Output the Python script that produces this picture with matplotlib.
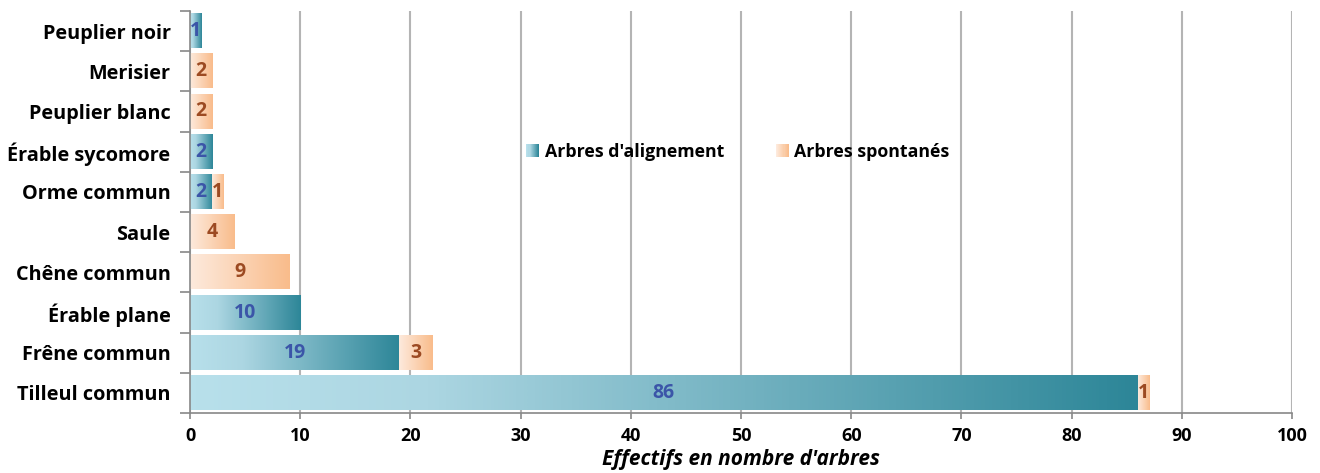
import matplotlib.pyplot as plt
from matplotlib.colors import LinearSegmentedColormap
from matplotlib.legend_handler import HandlerBase
from matplotlib.patches import Rectangle
import numpy as np

plt.rcParams['font.family'] = ['Open Sans', 'DejaVu Sans']

categories = ["Peuplier noir", "Merisier", "Peuplier blanc", "Érable sycomore", "Orme commun",
              "Saule", "Chêne commun", "Érable plane", "Frêne commun", "Tilleul commun"]
alignement = [1, 0, 0, 2, 2, 0, 0, 10, 19, 86]
spontanes = [0, 2, 2, 0, 1, 4, 9, 0, 3, 1]
series_names = ["Arbres d'alignement", "Arbres spontanés"]

cmap_bleu = LinearSegmentedColormap.from_list(
    "bleu", [(0, "#b8e0eb"), (0.25, "#acd6e2"), (1, "#2d8698")])
cmap_orange = LinearSegmentedColormap.from_list(
    "orange", [(0, "#fdeadd"), (1, "#f9bc8b")])
couleur_txt = ["#3b55a8", "#9c4a22"]

grad = np.linspace(0, 1, 256).reshape(1, -1)


class HandlerGradient(HandlerBase):
    # petit carré en dégradé pour la légende
    def __init__(self, cmap):
        super().__init__()
        self.cmap = cmap

    def create_artists(self, legend, orig_handle, xdescent, ydescent,
                       width, height, fontsize, trans):
        n = 12
        side = height
        x0 = -xdescent + (width - side)
        y0 = -ydescent + (height - side) / 2
        arts = []
        for i in range(n):
            r = Rectangle((x0 + i * side / n, y0), side / n * 1.05, side,
                          facecolor=self.cmap(i / (n - 1)), edgecolor="none",
                          transform=trans)
            arts.append(r)
        return arts


fig = plt.figure(figsize=(13.2, 4.73), dpi=100)
ax = fig.add_axes([190 / 1320, 1 - 413 / 473, 1102 / 1320, 402 / 473])

y = np.arange(len(categories))
h = 0.85

for serie, cmap, col, lefts in [(alignement, cmap_bleu, couleur_txt[0], [0] * len(y)),
                                (spontanes, cmap_orange, couleur_txt[1], alignement)]:
    for yi, v, l in zip(y, serie, lefts):
        if v == 0:
            continue
        ax.imshow(grad, cmap=cmap, aspect="auto", interpolation="bilinear",
                  extent=[l, l + v, yi + h / 2, yi - h / 2], zorder=3)
        ax.text(l + v / 2, yi, str(v), ha="center", va="center", color=col,
                fontsize=14, fontweight="bold", zorder=4)

ax.set_xlim(0, 100)
ax.set_ylim(len(categories) - 0.5, -0.5)
ax.set_xticks(np.arange(0, 101, 10))
ax.set_yticks(y)
ax.set_yticklabels(categories, fontsize=14.3, fontweight="bold")
ax.set_yticks(np.arange(-0.5, len(categories), 1), minor=True)
ax.tick_params(axis="y", which="major", length=0, pad=14)
ax.tick_params(axis="y", which="minor", length=7, color="#888888", width=1.2)
ax.tick_params(axis="x", length=4, color="#888888", width=1.2, labelsize=13, pad=6)
for lab in ax.get_xticklabels():
    lab.set_fontweight("bold")
ax.xaxis.grid(True, color="#b4b4b4", linewidth=1.5, zorder=0)
ax.set_axisbelow(True)
for s in ["top", "right"]:
    ax.spines[s].set_visible(False)
for s in ["left", "bottom"]:
    ax.spines[s].set_color("#888888")
    ax.spines[s].set_linewidth(1.2)
    ax.spines[s].set_zorder(5)

ax.set_xlabel("Effectifs en nombre d'arbres", fontsize=15, fontweight="bold",
              fontstyle="italic", labelpad=3)

h1 = Rectangle((0, 0), 1, 1)
h2 = Rectangle((0, 0), 1, 1)
ax.legend([h1, h2], series_names, handler_map={h1: HandlerGradient(cmap_bleu),
                                               h2: HandlerGradient(cmap_orange)},
          loc="center", bbox_to_anchor=(0.497, 0.65), ncol=2, frameon=False,
          handlelength=0.75, handleheight=0.75, handletextpad=0.3, columnspacing=2.9,
          prop={"size": 12.8, "weight": "bold"})

fig.savefig("out.png", dpi=100)
